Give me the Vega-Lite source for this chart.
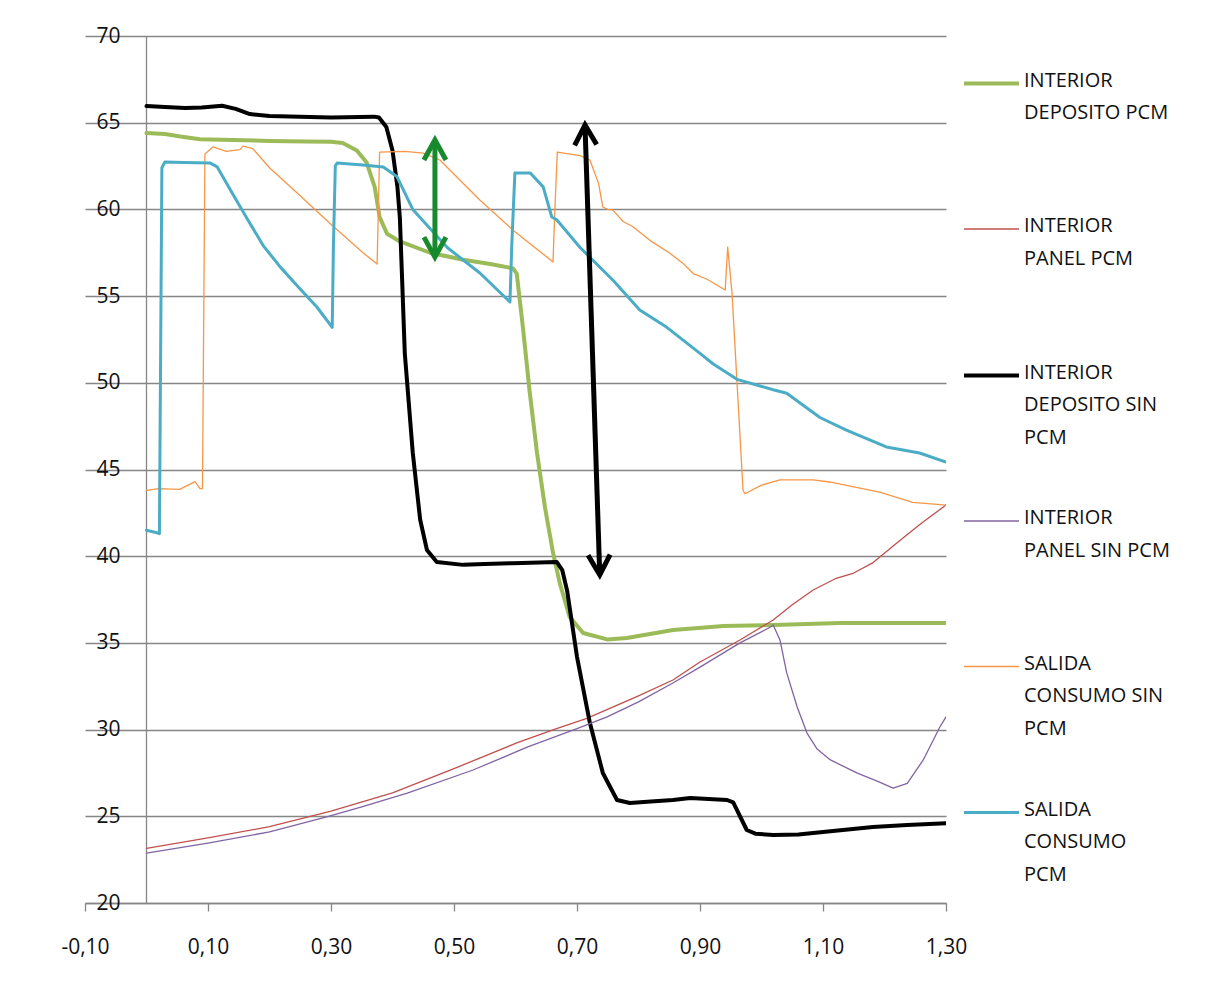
{
  "$schema": "https://vega.github.io/schema/vega-lite/v6.json",
  "width": 861,
  "height": 867,
  "autosize": {"type": "none"},
  "padding": {"left": 85, "top": 36, "right": 264, "bottom": 102},
  "background": "white",
  "config": {"view": {"stroke": null}, "font": "Open Sans"},
  "datasets": {
    "eje": [{"t": 0}],
    "flechas": [
      {"flecha": "verde", "t": 0.469, "temp": 64.0, "t2": 0.469, "temp2": 57.25},
      {"flecha": "negra", "t": 0.713, "temp": 64.87, "t2": 0.737, "temp2": 38.92}
    ],
    "series": [
      {"serie": "INTERIOR DEPOSITO PCM", "t": 0.0, "temp": 64.4},
      {"serie": "INTERIOR DEPOSITO PCM", "t": 0.03, "temp": 64.35},
      {"serie": "INTERIOR DEPOSITO PCM", "t": 0.055, "temp": 64.2},
      {"serie": "INTERIOR DEPOSITO PCM", "t": 0.087, "temp": 64.05},
      {"serie": "INTERIOR DEPOSITO PCM", "t": 0.14, "temp": 64.0},
      {"serie": "INTERIOR DEPOSITO PCM", "t": 0.2, "temp": 63.95},
      {"serie": "INTERIOR DEPOSITO PCM", "t": 0.26, "temp": 63.92},
      {"serie": "INTERIOR DEPOSITO PCM", "t": 0.3, "temp": 63.9},
      {"serie": "INTERIOR DEPOSITO PCM", "t": 0.319, "temp": 63.83},
      {"serie": "INTERIOR DEPOSITO PCM", "t": 0.342, "temp": 63.4},
      {"serie": "INTERIOR DEPOSITO PCM", "t": 0.358, "temp": 62.7},
      {"serie": "INTERIOR DEPOSITO PCM", "t": 0.371, "temp": 61.3},
      {"serie": "INTERIOR DEPOSITO PCM", "t": 0.379, "temp": 59.56},
      {"serie": "INTERIOR DEPOSITO PCM", "t": 0.391, "temp": 58.6},
      {"serie": "INTERIOR DEPOSITO PCM", "t": 0.412, "temp": 58.15},
      {"serie": "INTERIOR DEPOSITO PCM", "t": 0.461, "temp": 57.5},
      {"serie": "INTERIOR DEPOSITO PCM", "t": 0.515, "temp": 57.1},
      {"serie": "INTERIOR DEPOSITO PCM", "t": 0.559, "temp": 56.85},
      {"serie": "INTERIOR DEPOSITO PCM", "t": 0.596, "temp": 56.6},
      {"serie": "INTERIOR DEPOSITO PCM", "t": 0.602, "temp": 56.3},
      {"serie": "INTERIOR DEPOSITO PCM", "t": 0.612, "temp": 53.2},
      {"serie": "INTERIOR DEPOSITO PCM", "t": 0.623, "temp": 49.5},
      {"serie": "INTERIOR DEPOSITO PCM", "t": 0.635, "temp": 45.95},
      {"serie": "INTERIOR DEPOSITO PCM", "t": 0.648, "temp": 42.8},
      {"serie": "INTERIOR DEPOSITO PCM", "t": 0.661, "temp": 40.2},
      {"serie": "INTERIOR DEPOSITO PCM", "t": 0.672, "temp": 38.45},
      {"serie": "INTERIOR DEPOSITO PCM", "t": 0.688, "temp": 36.5},
      {"serie": "INTERIOR DEPOSITO PCM", "t": 0.71, "temp": 35.57},
      {"serie": "INTERIOR DEPOSITO PCM", "t": 0.749, "temp": 35.2},
      {"serie": "INTERIOR DEPOSITO PCM", "t": 0.781, "temp": 35.28},
      {"serie": "INTERIOR DEPOSITO PCM", "t": 0.856, "temp": 35.74},
      {"serie": "INTERIOR DEPOSITO PCM", "t": 0.938, "temp": 35.97},
      {"serie": "INTERIOR DEPOSITO PCM", "t": 1.019, "temp": 36.03},
      {"serie": "INTERIOR DEPOSITO PCM", "t": 1.128, "temp": 36.15},
      {"serie": "INTERIOR DEPOSITO PCM", "t": 1.3, "temp": 36.15},

      {"serie": "INTERIOR PANEL PCM", "t": 0.0, "temp": 23.15},
      {"serie": "INTERIOR PANEL PCM", "t": 0.1, "temp": 23.75},
      {"serie": "INTERIOR PANEL PCM", "t": 0.2, "temp": 24.4},
      {"serie": "INTERIOR PANEL PCM", "t": 0.255, "temp": 24.9},
      {"serie": "INTERIOR PANEL PCM", "t": 0.3, "temp": 25.3},
      {"serie": "INTERIOR PANEL PCM", "t": 0.4, "temp": 26.35},
      {"serie": "INTERIOR PANEL PCM", "t": 0.5, "temp": 27.75},
      {"serie": "INTERIOR PANEL PCM", "t": 0.6, "temp": 29.2},
      {"serie": "INTERIOR PANEL PCM", "t": 0.662, "temp": 30.0},
      {"serie": "INTERIOR PANEL PCM", "t": 0.716, "temp": 30.65},
      {"serie": "INTERIOR PANEL PCM", "t": 0.8, "temp": 31.95},
      {"serie": "INTERIOR PANEL PCM", "t": 0.856, "temp": 32.86},
      {"serie": "INTERIOR PANEL PCM", "t": 0.9, "temp": 33.9},
      {"serie": "INTERIOR PANEL PCM", "t": 0.965, "temp": 35.17},
      {"serie": "INTERIOR PANEL PCM", "t": 1.019, "temp": 36.32},
      {"serie": "INTERIOR PANEL PCM", "t": 1.05, "temp": 37.2},
      {"serie": "INTERIOR PANEL PCM", "t": 1.084, "temp": 38.05},
      {"serie": "INTERIOR PANEL PCM", "t": 1.12, "temp": 38.7},
      {"serie": "INTERIOR PANEL PCM", "t": 1.15, "temp": 39.03},
      {"serie": "INTERIOR PANEL PCM", "t": 1.18, "temp": 39.6},
      {"serie": "INTERIOR PANEL PCM", "t": 1.225, "temp": 40.9},
      {"serie": "INTERIOR PANEL PCM", "t": 1.26, "temp": 41.9},
      {"serie": "INTERIOR PANEL PCM", "t": 1.3, "temp": 42.95},

      {"serie": "INTERIOR DEPOSITO SIN PCM", "t": 0.0, "temp": 65.96},
      {"serie": "INTERIOR DEPOSITO SIN PCM", "t": 0.03, "temp": 65.9},
      {"serie": "INTERIOR DEPOSITO SIN PCM", "t": 0.063, "temp": 65.85},
      {"serie": "INTERIOR DEPOSITO SIN PCM", "t": 0.09, "temp": 65.88},
      {"serie": "INTERIOR DEPOSITO SIN PCM", "t": 0.123, "temp": 65.98},
      {"serie": "INTERIOR DEPOSITO SIN PCM", "t": 0.145, "temp": 65.8},
      {"serie": "INTERIOR DEPOSITO SIN PCM", "t": 0.168, "temp": 65.5},
      {"serie": "INTERIOR DEPOSITO SIN PCM", "t": 0.2, "temp": 65.38},
      {"serie": "INTERIOR DEPOSITO SIN PCM", "t": 0.266, "temp": 65.33},
      {"serie": "INTERIOR DEPOSITO SIN PCM", "t": 0.3, "temp": 65.3},
      {"serie": "INTERIOR DEPOSITO SIN PCM", "t": 0.347, "temp": 65.33},
      {"serie": "INTERIOR DEPOSITO SIN PCM", "t": 0.37, "temp": 65.35},
      {"serie": "INTERIOR DEPOSITO SIN PCM", "t": 0.378, "temp": 65.3},
      {"serie": "INTERIOR DEPOSITO SIN PCM", "t": 0.39, "temp": 64.75},
      {"serie": "INTERIOR DEPOSITO SIN PCM", "t": 0.4, "temp": 63.4},
      {"serie": "INTERIOR DEPOSITO SIN PCM", "t": 0.408, "temp": 61.3},
      {"serie": "INTERIOR DEPOSITO SIN PCM", "t": 0.412, "temp": 59.5},
      {"serie": "INTERIOR DEPOSITO SIN PCM", "t": 0.42, "temp": 51.7},
      {"serie": "INTERIOR DEPOSITO SIN PCM", "t": 0.433, "temp": 45.95},
      {"serie": "INTERIOR DEPOSITO SIN PCM", "t": 0.445, "temp": 42.1},
      {"serie": "INTERIOR DEPOSITO SIN PCM", "t": 0.456, "temp": 40.36},
      {"serie": "INTERIOR DEPOSITO SIN PCM", "t": 0.472, "temp": 39.67},
      {"serie": "INTERIOR DEPOSITO SIN PCM", "t": 0.515, "temp": 39.5},
      {"serie": "INTERIOR DEPOSITO SIN PCM", "t": 0.55, "temp": 39.55},
      {"serie": "INTERIOR DEPOSITO SIN PCM", "t": 0.596, "temp": 39.6},
      {"serie": "INTERIOR DEPOSITO SIN PCM", "t": 0.667, "temp": 39.67},
      {"serie": "INTERIOR DEPOSITO SIN PCM", "t": 0.676, "temp": 39.2},
      {"serie": "INTERIOR DEPOSITO SIN PCM", "t": 0.684, "temp": 38.0},
      {"serie": "INTERIOR DEPOSITO SIN PCM", "t": 0.7, "temp": 34.2},
      {"serie": "INTERIOR DEPOSITO SIN PCM", "t": 0.721, "temp": 30.38},
      {"serie": "INTERIOR DEPOSITO SIN PCM", "t": 0.742, "temp": 27.5},
      {"serie": "INTERIOR DEPOSITO SIN PCM", "t": 0.765, "temp": 25.94},
      {"serie": "INTERIOR DEPOSITO SIN PCM", "t": 0.786, "temp": 25.77},
      {"serie": "INTERIOR DEPOSITO SIN PCM", "t": 0.82, "temp": 25.85},
      {"serie": "INTERIOR DEPOSITO SIN PCM", "t": 0.856, "temp": 25.94},
      {"serie": "INTERIOR DEPOSITO SIN PCM", "t": 0.884, "temp": 26.06},
      {"serie": "INTERIOR DEPOSITO SIN PCM", "t": 0.944, "temp": 25.94},
      {"serie": "INTERIOR DEPOSITO SIN PCM", "t": 0.954, "temp": 25.8},
      {"serie": "INTERIOR DEPOSITO SIN PCM", "t": 0.976, "temp": 24.21},
      {"serie": "INTERIOR DEPOSITO SIN PCM", "t": 0.99, "temp": 24.0},
      {"serie": "INTERIOR DEPOSITO SIN PCM", "t": 1.019, "temp": 23.92},
      {"serie": "INTERIOR DEPOSITO SIN PCM", "t": 1.06, "temp": 23.95},
      {"serie": "INTERIOR DEPOSITO SIN PCM", "t": 1.1, "temp": 24.1},
      {"serie": "INTERIOR DEPOSITO SIN PCM", "t": 1.181, "temp": 24.38},
      {"serie": "INTERIOR DEPOSITO SIN PCM", "t": 1.237, "temp": 24.5},
      {"serie": "INTERIOR DEPOSITO SIN PCM", "t": 1.3, "temp": 24.6},

      {"serie": "INTERIOR PANEL SIN PCM", "t": 0.0, "temp": 22.88},
      {"serie": "INTERIOR PANEL SIN PCM", "t": 0.1, "temp": 23.45},
      {"serie": "INTERIOR PANEL SIN PCM", "t": 0.2, "temp": 24.1},
      {"serie": "INTERIOR PANEL SIN PCM", "t": 0.293, "temp": 24.96},
      {"serie": "INTERIOR PANEL SIN PCM", "t": 0.35, "temp": 25.55},
      {"serie": "INTERIOR PANEL SIN PCM", "t": 0.424, "temp": 26.34},
      {"serie": "INTERIOR PANEL SIN PCM", "t": 0.531, "temp": 27.67},
      {"serie": "INTERIOR PANEL SIN PCM", "t": 0.62, "temp": 29.0},
      {"serie": "INTERIOR PANEL SIN PCM", "t": 0.7, "temp": 30.05},
      {"serie": "INTERIOR PANEL SIN PCM", "t": 0.749, "temp": 30.73},
      {"serie": "INTERIOR PANEL SIN PCM", "t": 0.8, "temp": 31.6},
      {"serie": "INTERIOR PANEL SIN PCM", "t": 0.856, "temp": 32.69},
      {"serie": "INTERIOR PANEL SIN PCM", "t": 0.9, "temp": 33.6},
      {"serie": "INTERIOR PANEL SIN PCM", "t": 0.965, "temp": 35.0},
      {"serie": "INTERIOR PANEL SIN PCM", "t": 1.014, "temp": 35.9},
      {"serie": "INTERIOR PANEL SIN PCM", "t": 1.019, "temp": 36.03},
      {"serie": "INTERIOR PANEL SIN PCM", "t": 1.03, "temp": 35.17},
      {"serie": "INTERIOR PANEL SIN PCM", "t": 1.041, "temp": 33.27},
      {"serie": "INTERIOR PANEL SIN PCM", "t": 1.058, "temp": 31.3},
      {"serie": "INTERIOR PANEL SIN PCM", "t": 1.074, "temp": 29.8},
      {"serie": "INTERIOR PANEL SIN PCM", "t": 1.09, "temp": 28.9},
      {"serie": "INTERIOR PANEL SIN PCM", "t": 1.112, "temp": 28.25},
      {"serie": "INTERIOR PANEL SIN PCM", "t": 1.155, "temp": 27.5},
      {"serie": "INTERIOR PANEL SIN PCM", "t": 1.19, "temp": 27.0},
      {"serie": "INTERIOR PANEL SIN PCM", "t": 1.214, "temp": 26.63},
      {"serie": "INTERIOR PANEL SIN PCM", "t": 1.237, "temp": 26.9},
      {"serie": "INTERIOR PANEL SIN PCM", "t": 1.263, "temp": 28.25},
      {"serie": "INTERIOR PANEL SIN PCM", "t": 1.29, "temp": 30.15},
      {"serie": "INTERIOR PANEL SIN PCM", "t": 1.3, "temp": 30.73},

      {"serie": "SALIDA CONSUMO SIN PCM", "t": 0.0, "temp": 43.8},
      {"serie": "SALIDA CONSUMO SIN PCM", "t": 0.02, "temp": 43.9},
      {"serie": "SALIDA CONSUMO SIN PCM", "t": 0.054, "temp": 43.85},
      {"serie": "SALIDA CONSUMO SIN PCM", "t": 0.079, "temp": 44.3},
      {"serie": "SALIDA CONSUMO SIN PCM", "t": 0.087, "temp": 43.9},
      {"serie": "SALIDA CONSUMO SIN PCM", "t": 0.091, "temp": 43.9},
      {"serie": "SALIDA CONSUMO SIN PCM", "t": 0.095, "temp": 63.2},
      {"serie": "SALIDA CONSUMO SIN PCM", "t": 0.108, "temp": 63.6},
      {"serie": "SALIDA CONSUMO SIN PCM", "t": 0.13, "temp": 63.35},
      {"serie": "SALIDA CONSUMO SIN PCM", "t": 0.152, "temp": 63.45},
      {"serie": "SALIDA CONSUMO SIN PCM", "t": 0.157, "temp": 63.65},
      {"serie": "SALIDA CONSUMO SIN PCM", "t": 0.173, "temp": 63.5},
      {"serie": "SALIDA CONSUMO SIN PCM", "t": 0.2, "temp": 62.4},
      {"serie": "SALIDA CONSUMO SIN PCM", "t": 0.245, "temp": 60.95},
      {"serie": "SALIDA CONSUMO SIN PCM", "t": 0.298, "temp": 59.2},
      {"serie": "SALIDA CONSUMO SIN PCM", "t": 0.352, "temp": 57.5},
      {"serie": "SALIDA CONSUMO SIN PCM", "t": 0.375, "temp": 56.85},
      {"serie": "SALIDA CONSUMO SIN PCM", "t": 0.377, "temp": 60.0},
      {"serie": "SALIDA CONSUMO SIN PCM", "t": 0.379, "temp": 63.3},
      {"serie": "SALIDA CONSUMO SIN PCM", "t": 0.42, "temp": 63.35},
      {"serie": "SALIDA CONSUMO SIN PCM", "t": 0.45, "temp": 63.25},
      {"serie": "SALIDA CONSUMO SIN PCM", "t": 0.477, "temp": 62.85},
      {"serie": "SALIDA CONSUMO SIN PCM", "t": 0.542, "temp": 60.54},
      {"serie": "SALIDA CONSUMO SIN PCM", "t": 0.596, "temp": 58.8},
      {"serie": "SALIDA CONSUMO SIN PCM", "t": 0.661, "temp": 56.97},
      {"serie": "SALIDA CONSUMO SIN PCM", "t": 0.664, "temp": 60.0},
      {"serie": "SALIDA CONSUMO SIN PCM", "t": 0.668, "temp": 63.3},
      {"serie": "SALIDA CONSUMO SIN PCM", "t": 0.705, "temp": 63.1},
      {"serie": "SALIDA CONSUMO SIN PCM", "t": 0.721, "temp": 62.85},
      {"serie": "SALIDA CONSUMO SIN PCM", "t": 0.735, "temp": 61.5},
      {"serie": "SALIDA CONSUMO SIN PCM", "t": 0.742, "temp": 60.14},
      {"serie": "SALIDA CONSUMO SIN PCM", "t": 0.75, "temp": 60.0},
      {"serie": "SALIDA CONSUMO SIN PCM", "t": 0.758, "temp": 59.97},
      {"serie": "SALIDA CONSUMO SIN PCM", "t": 0.775, "temp": 59.3},
      {"serie": "SALIDA CONSUMO SIN PCM", "t": 0.791, "temp": 59.0},
      {"serie": "SALIDA CONSUMO SIN PCM", "t": 0.819, "temp": 58.2},
      {"serie": "SALIDA CONSUMO SIN PCM", "t": 0.85, "temp": 57.5},
      {"serie": "SALIDA CONSUMO SIN PCM", "t": 0.872, "temp": 56.9},
      {"serie": "SALIDA CONSUMO SIN PCM", "t": 0.889, "temp": 56.3},
      {"serie": "SALIDA CONSUMO SIN PCM", "t": 0.91, "temp": 56.0},
      {"serie": "SALIDA CONSUMO SIN PCM", "t": 0.941, "temp": 55.35},
      {"serie": "SALIDA CONSUMO SIN PCM", "t": 0.945, "temp": 57.83},
      {"serie": "SALIDA CONSUMO SIN PCM", "t": 0.952, "temp": 55.2},
      {"serie": "SALIDA CONSUMO SIN PCM", "t": 0.97, "temp": 43.8},
      {"serie": "SALIDA CONSUMO SIN PCM", "t": 0.973, "temp": 43.6},
      {"serie": "SALIDA CONSUMO SIN PCM", "t": 1.0, "temp": 44.1},
      {"serie": "SALIDA CONSUMO SIN PCM", "t": 1.03, "temp": 44.4},
      {"serie": "SALIDA CONSUMO SIN PCM", "t": 1.084, "temp": 44.4},
      {"serie": "SALIDA CONSUMO SIN PCM", "t": 1.111, "temp": 44.28},
      {"serie": "SALIDA CONSUMO SIN PCM", "t": 1.15, "temp": 44.0},
      {"serie": "SALIDA CONSUMO SIN PCM", "t": 1.192, "temp": 43.7},
      {"serie": "SALIDA CONSUMO SIN PCM", "t": 1.246, "temp": 43.1},
      {"serie": "SALIDA CONSUMO SIN PCM", "t": 1.3, "temp": 42.95},

      {"serie": "SALIDA CONSUMO PCM", "t": 0.0, "temp": 41.5},
      {"serie": "SALIDA CONSUMO PCM", "t": 0.017, "temp": 41.35},
      {"serie": "SALIDA CONSUMO PCM", "t": 0.021, "temp": 41.3},
      {"serie": "SALIDA CONSUMO PCM", "t": 0.025, "temp": 62.4},
      {"serie": "SALIDA CONSUMO PCM", "t": 0.03, "temp": 62.73},
      {"serie": "SALIDA CONSUMO PCM", "t": 0.06, "temp": 62.7},
      {"serie": "SALIDA CONSUMO PCM", "t": 0.103, "temp": 62.68},
      {"serie": "SALIDA CONSUMO PCM", "t": 0.115, "temp": 62.45},
      {"serie": "SALIDA CONSUMO PCM", "t": 0.14, "temp": 60.9},
      {"serie": "SALIDA CONSUMO PCM", "t": 0.163, "temp": 59.5},
      {"serie": "SALIDA CONSUMO PCM", "t": 0.19, "temp": 57.9},
      {"serie": "SALIDA CONSUMO PCM", "t": 0.217, "temp": 56.7},
      {"serie": "SALIDA CONSUMO PCM", "t": 0.245, "temp": 55.6},
      {"serie": "SALIDA CONSUMO PCM", "t": 0.277, "temp": 54.37},
      {"serie": "SALIDA CONSUMO PCM", "t": 0.302, "temp": 53.2},
      {"serie": "SALIDA CONSUMO PCM", "t": 0.304, "temp": 58.0},
      {"serie": "SALIDA CONSUMO PCM", "t": 0.307, "temp": 62.5},
      {"serie": "SALIDA CONSUMO PCM", "t": 0.31, "temp": 62.68},
      {"serie": "SALIDA CONSUMO PCM", "t": 0.352, "temp": 62.56},
      {"serie": "SALIDA CONSUMO PCM", "t": 0.385, "temp": 62.45},
      {"serie": "SALIDA CONSUMO PCM", "t": 0.407, "temp": 61.9},
      {"serie": "SALIDA CONSUMO PCM", "t": 0.433, "temp": 60.0},
      {"serie": "SALIDA CONSUMO PCM", "t": 0.461, "temp": 58.9},
      {"serie": "SALIDA CONSUMO PCM", "t": 0.489, "temp": 57.8},
      {"serie": "SALIDA CONSUMO PCM", "t": 0.542, "temp": 56.33},
      {"serie": "SALIDA CONSUMO PCM", "t": 0.591, "temp": 54.66},
      {"serie": "SALIDA CONSUMO PCM", "t": 0.594, "temp": 58.0},
      {"serie": "SALIDA CONSUMO PCM", "t": 0.599, "temp": 62.1},
      {"serie": "SALIDA CONSUMO PCM", "t": 0.624, "temp": 62.1},
      {"serie": "SALIDA CONSUMO PCM", "t": 0.645, "temp": 61.3},
      {"serie": "SALIDA CONSUMO PCM", "t": 0.659, "temp": 59.56},
      {"serie": "SALIDA CONSUMO PCM", "t": 0.667, "temp": 59.4},
      {"serie": "SALIDA CONSUMO PCM", "t": 0.705, "temp": 57.8},
      {"serie": "SALIDA CONSUMO PCM", "t": 0.759, "temp": 55.9},
      {"serie": "SALIDA CONSUMO PCM", "t": 0.802, "temp": 54.2},
      {"serie": "SALIDA CONSUMO PCM", "t": 0.846, "temp": 53.2},
      {"serie": "SALIDA CONSUMO PCM", "t": 0.9, "temp": 51.7},
      {"serie": "SALIDA CONSUMO PCM", "t": 0.921, "temp": 51.1},
      {"serie": "SALIDA CONSUMO PCM", "t": 0.96, "temp": 50.2},
      {"serie": "SALIDA CONSUMO PCM", "t": 1.019, "temp": 49.6},
      {"serie": "SALIDA CONSUMO PCM", "t": 1.041, "temp": 49.4},
      {"serie": "SALIDA CONSUMO PCM", "t": 1.095, "temp": 48.0},
      {"serie": "SALIDA CONSUMO PCM", "t": 1.138, "temp": 47.27},
      {"serie": "SALIDA CONSUMO PCM", "t": 1.203, "temp": 46.3},
      {"serie": "SALIDA CONSUMO PCM", "t": 1.257, "temp": 45.95},
      {"serie": "SALIDA CONSUMO PCM", "t": 1.3, "temp": 45.43}
    ]
  },
  "layer": [
    {
      "data": {"name": "eje"},
      "mark": {"type": "rule", "color": "#868686", "strokeWidth": 1.3},
      "encoding": {
        "x": {"field": "t", "type": "quantitative", "scale": {"domain": [-0.1, 1.3], "nice": false, "zero": false}, "title": null}
      }
    },
    {
      "data": {"name": "series"},
      "mark": {"type": "line", "strokeJoin": "round", "strokeCap": "round", "clip": true},
      "encoding": {
        "x": {
          "field": "t", "type": "quantitative",
          "scale": {"domain": [-0.1, 1.3], "nice": false, "zero": false},
          "axis": {
            "title": null,
            "values": [-0.1, 0.1, 0.3, 0.5, 0.7, 0.9, 1.1, 1.3],
            "labelExpr": "replace(replace(format(datum.value, '.2f'), '.', ','), '−', '-')",
            "grid": false,
            "domainColor": "#868686", "domainWidth": 1.3,
            "tickColor": "#868686", "tickWidth": 1.3, "tickSize": 8,
            "labelFont": "Open Sans", "labelFontSize": 21, "labelColor": "#111111",
            "labelPadding": 25, "labelFlush": false, "labelOverlap": false
          }
        },
        "y": {
          "field": "temp", "type": "quantitative",
          "scale": {"domain": [20, 70], "nice": false, "zero": false},
          "axis": {
            "title": null,
            "values": [20, 25, 30, 35, 40, 45, 50, 55, 60, 65, 70],
            "grid": true, "gridColor": "#868686", "gridWidth": 1.3,
            "ticks": false, "tickSize": 0, "domain": false,
            "labelFont": "Open Sans", "labelFontSize": 21, "labelColor": "#111111",
            "labelPadding": -35, "labelAlign": "right", "labelFlush": false, "labelOverlap": false
          }
        },
        "color": {
          "field": "serie", "type": "nominal",
          "scale": {
            "domain": ["INTERIOR DEPOSITO PCM", "INTERIOR PANEL PCM", "INTERIOR DEPOSITO SIN PCM", "INTERIOR PANEL SIN PCM", "SALIDA CONSUMO SIN PCM", "SALIDA CONSUMO PCM"],
            "range": ["#9BBB59", "#C0504D", "#000000", "#8064A2", "#F79646", "#4BACC6"]
          },
          "legend": {
            "title": null,
            "orient": "right",
            "offset": -2,
            "padding": 18,
            "symbolType": "stroke",
            "symbolSize": 3025,
            "labelFont": "Open Sans",
            "labelFontSize": 20,
            "labelColor": "#111111",
            "labelLimit": 400,
            "labelOffset": 3,
            "labelBaseline": "top",
            "rowPadding": 44.5,
            "labelExpr": "datum.label == 'INTERIOR DEPOSITO PCM' ? ['INTERIOR', 'DEPOSITO PCM', ''] : datum.label == 'INTERIOR PANEL PCM' ? ['INTERIOR', 'PANEL PCM', ''] : datum.label == 'INTERIOR DEPOSITO SIN PCM' ? ['INTERIOR', 'DEPOSITO SIN', 'PCM'] : datum.label == 'INTERIOR PANEL SIN PCM' ? ['INTERIOR', 'PANEL SIN PCM', ''] : datum.label == 'SALIDA CONSUMO SIN PCM' ? ['SALIDA', 'CONSUMO SIN', 'PCM'] : ['SALIDA', 'CONSUMO', 'PCM']",
            "encode": {"labels": {"update": {"lineHeight": {"value": 32.5}, "dy": {"value": -13}}}}
          }
        },
        "strokeWidth": {
          "field": "serie", "type": "nominal",
          "scale": {
            "type": "ordinal",
            "domain": ["INTERIOR DEPOSITO PCM", "INTERIOR PANEL PCM", "INTERIOR DEPOSITO SIN PCM", "INTERIOR PANEL SIN PCM", "SALIDA CONSUMO SIN PCM", "SALIDA CONSUMO PCM"],
            "range": [4, 1.3, 4, 1.3, 1.3, 3]
          }
        }
      }
    },
    {
      "data": {"name": "flechas"},
      "transform": [{"filter": "datum.flecha == 'verde'"}],
      "mark": {"type": "rule", "color": "#178A2E", "strokeWidth": 5},
      "encoding": {
        "x": {"field": "t", "type": "quantitative", "title": null},
        "y": {"field": "temp", "type": "quantitative", "title": null},
        "x2": {"field": "t2"},
        "y2": {"field": "temp2"}
      }
    },
    {
      "data": {"name": "flechas"},
      "transform": [{"filter": "datum.flecha == 'verde'"}],
      "mark": {"type": "point", "shape": "M-0.55,1L0,0L0.55,1", "filled": false, "stroke": "#178A2E", "strokeWidth": 5, "size": 1600, "opacity": 1, "strokeJoin": "miter"},
      "encoding": {
        "x": {"field": "t", "type": "quantitative", "title": null},
        "y": {"field": "temp", "type": "quantitative", "title": null}
      }
    },
    {
      "data": {"name": "flechas"},
      "transform": [{"filter": "datum.flecha == 'verde'"}],
      "mark": {"type": "point", "shape": "M-0.55,-1L0,0L0.55,-1", "filled": false, "stroke": "#178A2E", "strokeWidth": 5, "size": 1600, "opacity": 1, "strokeJoin": "miter"},
      "encoding": {
        "x": {"field": "t2", "type": "quantitative", "title": null},
        "y": {"field": "temp2", "type": "quantitative", "title": null}
      }
    },
    {
      "data": {"name": "flechas"},
      "transform": [{"filter": "datum.flecha == 'negra'"}],
      "mark": {"type": "rule", "color": "#000000", "strokeWidth": 5},
      "encoding": {
        "x": {"field": "t", "type": "quantitative", "title": null},
        "y": {"field": "temp", "type": "quantitative", "title": null},
        "x2": {"field": "t2"},
        "y2": {"field": "temp2"}
      }
    },
    {
      "data": {"name": "flechas"},
      "transform": [{"filter": "datum.flecha == 'negra'"}],
      "mark": {"type": "point", "shape": "M-0.55,1L0,0L0.55,1", "filled": false, "stroke": "#000000", "strokeWidth": 5, "size": 1600, "opacity": 1, "angle": -1.9, "strokeJoin": "miter"},
      "encoding": {
        "x": {"field": "t", "type": "quantitative", "title": null},
        "y": {"field": "temp", "type": "quantitative", "title": null}
      }
    },
    {
      "data": {"name": "flechas"},
      "transform": [{"filter": "datum.flecha == 'negra'"}],
      "mark": {"type": "point", "shape": "M-0.55,-1L0,0L0.55,-1", "filled": false, "stroke": "#000000", "strokeWidth": 5, "size": 1600, "opacity": 1, "angle": -1.9, "strokeJoin": "miter"},
      "encoding": {
        "x": {"field": "t2", "type": "quantitative", "title": null},
        "y": {"field": "temp2", "type": "quantitative", "title": null}
      }
    }
  ]
}
